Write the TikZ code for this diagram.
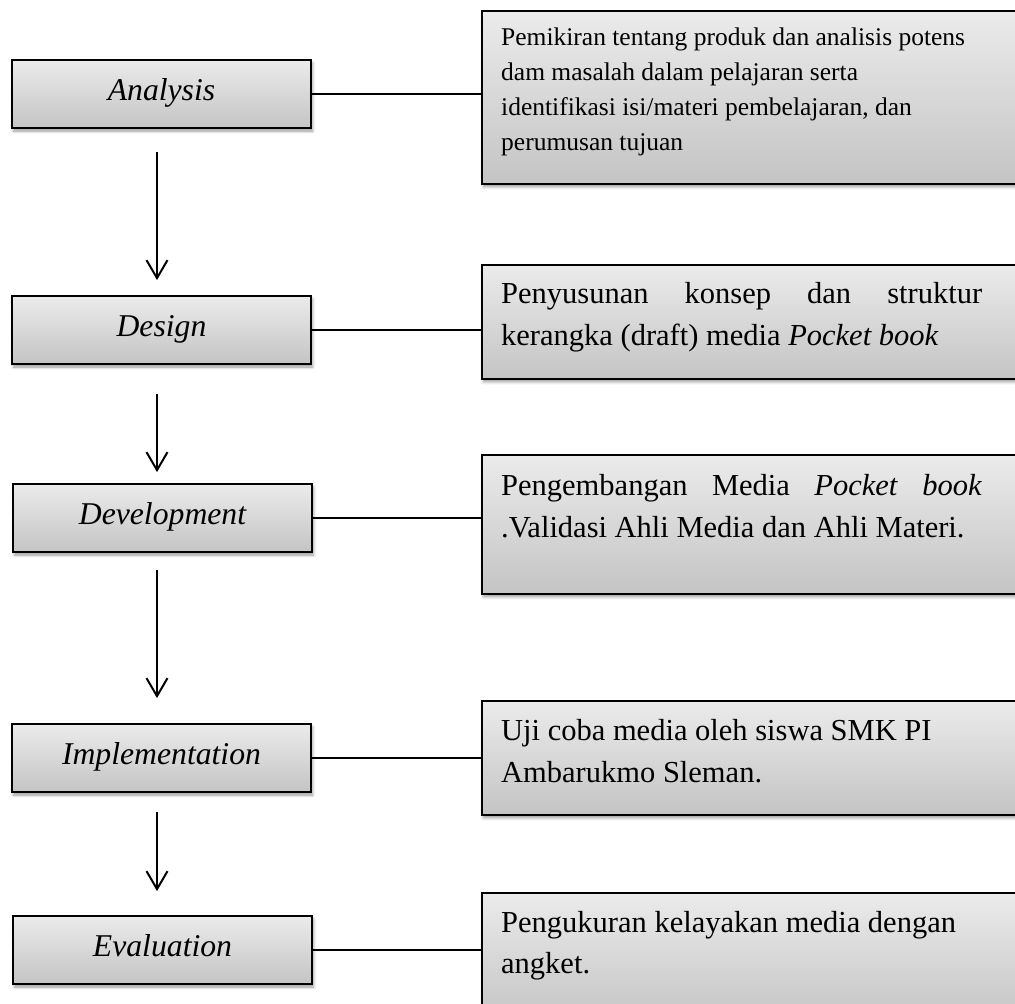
\documentclass[tikz,border=0pt]{standalone}
\usepackage{fontspec}
\setmainfont{Liberation Serif}
\usetikzlibrary{arrows.meta,shadows.blur}
\definecolor{gtop}{HTML}{EBEBEB}
\definecolor{gbot}{HTML}{C4C4C4}
\begin{document}
\begin{tikzpicture}[x=1pt,y=-1pt,
  box/.style={draw=black, line width=1.8pt, top color=gtop, bottom color=gbot,
    blur shadow={shadow xshift=1.5pt, shadow yshift=-3pt, shadow blur radius=3pt, shadow opacity=40},
    inner sep=0pt},
  lbox/.style={box, minimum width=299pt, minimum height=68pt,
    font=\fontsize{31.7}{38}\selectfont\itshape, text height=20pt, text depth=8pt},
  rbox/.style={box, anchor=north west, minimum width=560pt},
  rtext/.style={anchor=base west, inner sep=0pt, font=\fontsize{30.5}{42}\selectfont},
  rtextsmall/.style={anchor=base west, inner sep=0pt, font=\fontsize{25.5}{35}\selectfont},
  link/.style={line width=1.5pt},
  arr/.style={line width=2pt, -{Straight Barb[length=18pt,width=21pt]}}]
\useasboundingbox (0,0) rectangle (1015,1004);
\clip (0,0) rectangle (1015,1004);

% left stage boxes
\node[lbox] (a) at (161.5,94) {Analysis};
\node[lbox] (d) at (161.5,330) {Design};
\node[lbox] (v) at (162.5,518) {Development};
\node[lbox] (i) at (161.5,758) {Implementation};
\node[lbox] (e) at (162.5,950) {Evaluation};

% right description boxes
\node[rbox, minimum height=173pt] (r1) at (481,10) {};
\node[rbox, minimum height=114pt] (r2) at (481,264) {};
\node[rbox, minimum height=139pt] (r3) at (481,454) {};
\node[rbox, minimum height=114pt] (r4) at (481,700) {};
\node[rbox, minimum height=130pt] (r5) at (481,892) {};

% texts
\node[rtextsmall] (t1) at (501,45) {\vtop{\baselineskip=35pt
  \hbox{Pemikiran tentang produk dan analisis potens}
  \hbox{dam masalah dalam pelajaran serta}
  \hbox{identifikasi isi/materi pembelajaran, dan}
  \hbox{perumusan tujuan}}};
\node[rtext] (t2) at (501,303) {\vtop{\baselineskip=42pt
  \hbox to 481pt{Penyusunan\hfill konsep\hfill dan\hfill struktur}
  \hbox{kerangka (draft) media \textit{Pocket book}}}};
\node[rtext] (t3) at (501,495) {\vtop{\baselineskip=42pt
  \hbox to 481pt{Pengembangan\hfill Media\hfill \textit{Pocket}\hfill \textit{book}}
  \hbox{.Validasi Ahli Media dan Ahli Materi.}}};
\node[rtext] (t4) at (501,740) {\vtop{\baselineskip=42pt
  \hbox{Uji coba media oleh siswa SMK PI}
  \hbox{Ambarukmo Sleman.}}};
\node[rtext] (t5) at (501,932) {\vtop{\baselineskip=41pt
  \hbox{Pengukuran kelayakan media dengan}
  \hbox{angket.}}};

% horizontal links
\draw[link] (a.east) -- (a.east -| r1.west);
\draw[link] (d.east) -- (d.east -| r2.west);
\draw[link] (v.east) -- (v.east -| r3.west);
\draw[link] (i.east) -- (i.east -| r4.west);
\draw[link] (e.east) -- (e.east -| r5.west);

% vertical arrows
\draw[arr] ([xshift=-4.5pt,yshift=-23pt]a.south) -- ([xshift=-4.5pt,yshift=15pt]d.north);
\draw[arr] ([xshift=-4.5pt,yshift=-29pt]d.south) -- ([xshift=-5.5pt,yshift=11pt]v.north);
\draw[arr] ([xshift=-5.5pt,yshift=-17pt]v.south) -- ([xshift=-4.5pt,yshift=25pt]i.north);
\draw[arr] ([xshift=-4.5pt,yshift=-19pt]i.south) -- ([xshift=-5.5pt,yshift=24pt]e.north);
\end{tikzpicture}
\end{document}
